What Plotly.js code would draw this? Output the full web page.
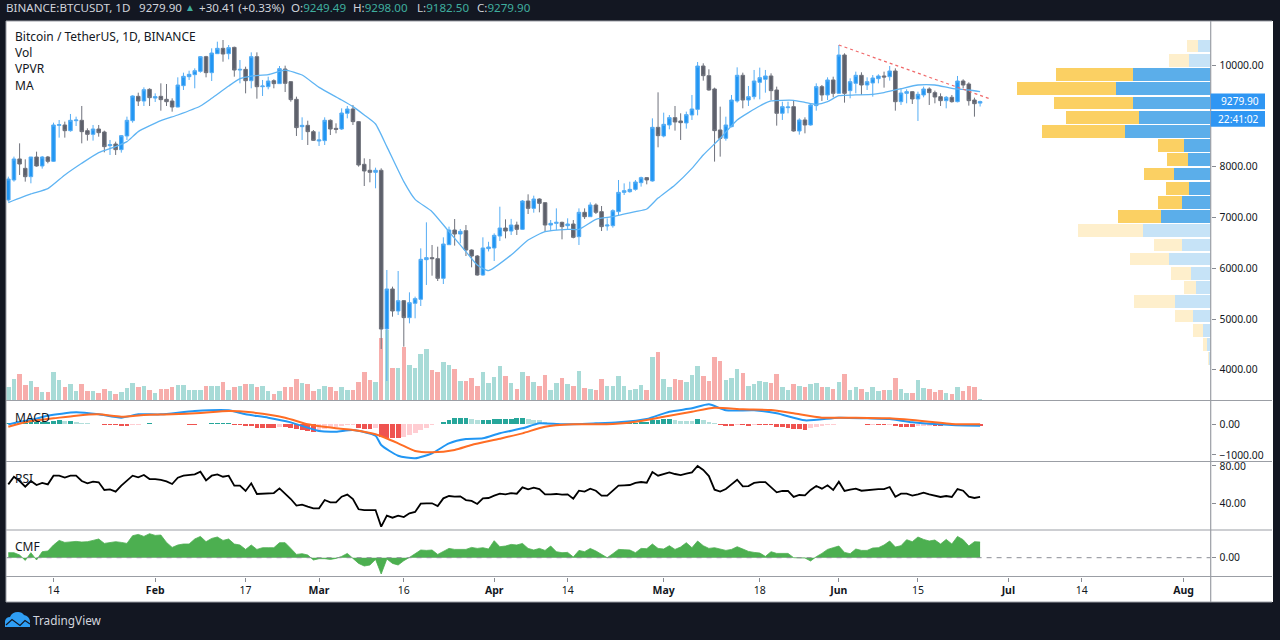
<!DOCTYPE html>
<html><head><meta charset="utf-8">
<script src="https://cdn.plot.ly/plotly-3.0.1.min.js"></script>
<style>html,body{margin:0;padding:0;background:#131722}#c{width:1280px;height:640px}</style>
</head><body><div id="c"></div>
<script>
// Candles: one per day, day index 0 = 14 Jan 2020, first candle at index -8
const firstDay = -8;
const open = [7343,7737,8150,7966,7802,8189,8012,8189,8104,8812,8819,8707,8904,8911,8707,8635,8740,8681,8412,8445,8334,8603,8904,9383,9291,9521,9350,9383,9324,9291,9173,9593,9770,9810,9875,10164,9849,10223,10328,10223,10347,9901,9914,9691,10164,9573,9573,9691,9633,9921,9672,9324,8786,8812,8688,8504,8511,8911,8753,8740,9049,9134,8885,8045,7927,7887,7927,
4804,5591,5158,5361,5027,5309,5388,6168,6208,6188,5801,6463,6752,6673,6739,6358,6240,5866,6385,6398,6634,6791,6732,6850,6765,7323,7178,7362,7290,6850,6883,6903,6837,6870,6621,7100,7014,7244,7113,6831,6837,7113,
7493,7506,7552,7684,7783,7717,8773,8603,8819,8964,8898,8859,9016,9127,9980,9790,9528,8721,8557,8786,9292,9797,9311,9377,9659,9718,9784,9508,9049,9160,9180,8701,8918,8819,9200,9574,9410,9705,9442,10197,9495,9639,9797,9606,9646,9731,9784,9770,9882,9278,9442,9475,9331,9410,9528,9456,9377,9298,9364,9278,9685,9626,9311,9249.49];
const high = [7802,8196,8458,8143,8189,8294,8209,8209,8865,8917,8885,9036,8983,9193,8753,8819,8819,8707,8524,8491,8622,8983,9403,9455,9560,9541,9442,9639,9626,9344,9757,9849,9888,9934,10177,10180,10328,10459,10492,10393,10361,10098,9967,10249,10249,9705,9770,9718,9980,9987,9685,9377,8970,8904,8720,8688,8970,8930,8852,9147,9193,9213,8898,8163,8150,7979,7966,
5965,5637,5945,5374,5525,5440,6391,6903,6457,6424,6608,6818,6968,6772,6850,6371,6260,6608,6520,6686,7211,6962,6971,6916,7342,7454,7428,7375,7296,6949,7178,6916,6982,6949,7178,7178,7296,7277,7224,6982,7159,7736,
7670,7703,7736,7802,7789,8950,9462,9062,9016,9193,9049,9082,9410,10059,10033,9915,9554,9180,8983,9410,9954,9849,9587,9902,9948,9902,9836,9574,9278,9278,9298,8950,8970,9232,9639,9606,9757,9770,10394,10230,9738,9869,9856,9757,9803,9816,9869,9980,9934,9541,9521,9488,9475,9574,9560,9495,9442,9390,9410,9784,9718,9659,9357,9298];
const low = [7310,7704,7835,7704,7671,7999,7960,8065,8091,8570,8570,8688,8799,8458,8511,8511,8589,8281,8229,8229,8275,8524,8865,9193,9193,9193,9272,9101,9193,9081,9167,9508,9705,9541,9849,9757,9685,10216,10065,10111,9770,9639,9442,9541,9337,9390,9521,9541,9626,9468,9278,8603,8524,8425,8504,8406,8425,8622,8655,8721,8950,8819,7999,7618,7691,7573,4410,
3780,5046,5079,4456,4915,5014,5256,5670,5853,5748,5689,6457,6444,6490,6240,6017,5853,5853,6330,6142,6536,6588,6654,6654,6752,7067,7093,7100,6719,6732,6752,6568,6752,6588,6457,6968,7014,7067,6732,6739,6798,7027,
7441,7487,7526,7606,7651,7704,8380,8576,8734,8708,8524,8747,8918,9009,9692,9495,8098,8196,8511,8773,9259,9147,9193,9324,9324,9455,9311,8806,8918,9049,8688,8629,8655,8806,9101,9292,9311,9364,9429,9259,9344,9442,9410,9508,9377,9639,9554,9692,9101,9213,9246,9233,8898,9364,9213,9246,9193,9147,9259,9265,9541,9200,8983,9182.50];
const close = [7756,8150,8051,7802,8189,8012,8189,8104,8819,8825,8707,8911,8917,8688,8635,8740,8668,8393,8432,8334,8609,8911,9390,9291,9514,9357,9377,9318,9278,9173,9606,9777,9816,9888,10164,9849,10236,10328,10216,10341,9901,9914,9691,10164,9573,9586,9685,9633,9928,9639,9318,8767,8812,8688,8517,8524,8911,8740,8734,9055,9134,8885,8032,7914,7887,7927,4803,
5591,5158,5361,5027,5322,5401,6175,6208,6188,5801,6476,6752,6673,6726,6358,6240,5866,6398,6417,6647,6791,6732,6850,6765,7323,7178,7362,7277,6850,6883,6903,6818,6870,6608,7100,7014,7244,7100,6818,6850,7132,7493,
7526,7552,7697,7783,7737,8773,8609,8832,8964,8878,8865,9023,9134,9980,9790,9508,8708,8557,8819,9311,9797,9311,9377,9685,9751,9784,9495,9049,9180,9173,8701,8918,8819,9213,9574,9410,9705,9442,10197,9442,9672,9797,9606,9672,9744,9784,9764,9882,9278,9449,9475,9331,9423,9528,9456,9370,9298,9364,9278,9685,9606,9298,9239,9279.90];
// Volume, thousand BTC (estimated)
const volume = [67,108,133,80,100,67,45,42,142,105,67,85,47,85,47,47,37,60,50,32,42,65,90,67,75,55,37,57,60,67,80,80,55,55,55,75,75,75,95,55,70,75,85,85,67,75,50,32,47,70,67,110,90,85,47,57,75,67,47,
70,55,55,95,143,105,95,312,355,162,165,267,180,162,233,258,153,143,195,180,158,100,100,115,75,143,90,120,175,123,90,60,143,123,95,75,128,55,90,115,85,75,148,65,60,55,110,75,75,123,75,55,60,80,55,220,245,110,70,
110,105,95,128,175,123,100,220,200,105,115,158,138,75,85,100,95,90,133,70,55,85,75,70,85,90,70,70,60,95,133,55,70,60,42,70,50,55,55,115,60,37,37,105,65,60,45,55,37,32,70,50,75,70,10];
// MACD: sparse readings (day index, value) and per-day histogram
const macdDay = [-8,-6,-4,-1,4,8,12,15,19,25,31,34,38,42,47,50,53,57,58,61,64,67,70,73,76,79,83,86,90,96,100,105,109,113,116,119,124,128,133,139,144,148,152,159,164];
const macdVal = [-2,85,139,281,389,324,216,324,324,433,454,324,216,63,-219,-241,-186,-371,-675,-1023,-1109,-947,-621,-480,-458,-290,-132,31,-2,31,63,172,411,520,650,454,454,357,129,216,194,172,63,-23,-45];
const signalDay = [-8,-4,0,4,8,12,16,21,26,31,35,41,45,50,53,57,61,64,67,71,74,79,83,87,92,99,104,109,113,117,122,127,131,136,142,148,155,159,164];
const signalVal = [-78,107,194,281,324,248,302,324,368,433,389,216,-2,-132,-186,-327,-621,-870,-914,-838,-675,-469,-295,-78,-2,9,107,281,411,541,487,465,357,216,216,194,85,9,-2];
const macdHist = [33,44,55,55,66,66,77,88,110,132,110,110,77,55,33,22,11,-22,-22,-33,-55,-55,-33,-22,22,33,22,22,22,11,11,0,-11,-22,22,22,33,33,33,33,
-22,-33,-55,-66,-132,-132,-132,-132,-88,-99,-132,-165,-198,-209,-242,-198,-154,-110,-77,-55,-33,-22,-121,-143,-143,-132,
-418,-440,-440,-440,-418,-352,-275,-198,-110,-33,22,66,154,198,198,198,165,154,154,154,165,165,
165,176,198,198,187,154,132,88,55,33,22,11,0,0,0,0,0,0,0,11,
22,33,44,55,66,88,132,154,165,176,132,121,110,99,165,132,88,33,-22,-44,-55,-33,-33,-44,-22,-22,-22,-33,-77,-88,-110,-154,-165,-176,-132,-88,-44,-22,-11,22,11,11,5,11,-33,-22,-33,-33,-22,-66,-77,-88,-99,-66,-55,-44,-55,-66,-33,-33,-22,-22,-33,-44,-44];
const rsi = [60.3,68.5,63.9,57.8,63.9,59.6,61.8,60.3,69.6,69.6,67.5,69.6,69.6,63.9,61.4,63.2,62.5,54.3,55,52.5,58.9,63.9,69.6,67.8,70.3,66,66,65,63.5,60.7,67.5,69.6,70,71,73.9,64.6,69.6,71,68.5,69.6,58.9,58.9,53.2,61.4,50,50.3,51.4,51,56,50.7,44.6,37.5,38.5,36.4,34.6,34.6,43.5,41,41,47.1,49.3,44.6,33.6,32.8,32.5,32.8,15,26.8,24.6,26.8,25.3,29.3,30.7,39.6,40,40,37.1,45.3,47.8,47.1,47.5,43.5,42.5,39.3,45.3,45.7,48.2,50.3,
49.6,51,50.3,57.1,55,56.8,55.3,49.6,49.6,50,49.3,49.6,45,53.5,52.5,55.7,53.5,48.2,48.2,53.5,58.9,59.3,59.6,61.8,62.8,62.1,73.5,69.6,71.4,73.2,71.4,70.3,71.7,73.2,80,75.7,69.2,54.6,52.5,55.3,60.3,65.3,58.2,58.5,61.8,62.8,62.8,57.8,51.8,53.2,53.2,46.8,48.9,48.5,54.3,58.5,55.7,59.3,54.3,63.2,53.2,54.6,55.7,53.5,54.3,55.3,55.3,55.3,57.5,47.1,50.3,50.3,48.2,49.6,51.4,49.6,47.8,46.8,47.8,46.8,55.3,53.5,47.1,45.7,46.8];
const cmf = [.05,.05,.027,-.027,.05,-.023,.06,.067,.127,.173,.153,.157,.163,.157,.16,.173,.187,.143,.15,.16,.153,.143,.22,.233,.213,.24,.223,.227,.153,.103,.127,.137,.137,.187,.213,.16,.193,.207,.173,.187,.137,.127,.083,.127,.083,.1,.1,.1,.15,.15,.093,.033,.04,.027,-.023,-.01,-.01,-.017,-.007,.013,.043,-.007,-.057,-.083,-.073,-.017,-.163,-.013,-.057,-.073,-.03,.003,.043,.077,.073,.077,.033,.067,.093,.083,.083,.083,.103,.093,.1,.087,.17,.11,
.117,.133,.127,.143,.093,.077,.093,.073,.117,.06,.05,.053,.007,.073,.06,.093,.067,.033,0,.04,.083,.08,.077,.05,.093,.09,.137,.093,.087,.12,.083,.107,.15,.1,.167,.12,.093,.1,.087,.073,.083,.11,.087,.063,.053,.047,.013,.06,.043,.04,.043,0,0,-.003,-.033,.01,.043,.083,.1,.117,.053,.04,.087,.073,.073,.097,.1,.127,.167,.107,.12,.18,.16,.207,.183,.167,.177,.137,.183,.137,.213,.18,.117,.16,.157];
// Moving average: readings from the picture
const maDay = [-8,-4,-1,2,5,8,11,13,15,19,22,26,28,31,33,35,38,41,44,47,51,53,55,57,59,62,64,67,70,73,75,77,81,84,87,91,93,96,99,103,105,107,110,113,115,118,121,125,127,131,133,135,137,139,142,145,147,150,153,156,159,162,164];
const maVal = [7291,7461,7566,7835,8065,8275,8393,8491,8688,8904,9016,9193,9344,9586,9731,9783,9810,9901,9803,9560,9311,9180,9016,8839,8393,7704,7355,7113,6719,6326,6063,5952,6260,6555,6719,6765,6765,6962,7014,7113,7165,7380,7640,7966,8229,8557,8918,9193,9292,9305,9265,9226,9278,9396,9410,9423,9456,9534,9606,9606,9541,9508,9475];
const trendDay = [139,166];
const trendPrice = [10394,9324];
// Visible range volume profile (price level, up part, down part)
const vpPrice = [10374,10092,9813,9534,9252,8967,8695,8416,8140,7855,7573,7297,7019,6743,6461,6179,5897,5618,5342,5060,4778,4500,4224];
const vpUp = [12.7,22,77.7,95,77.7,72,85.7,27,23,36.7,22,29,50,67.3,29,41.7,19.3,14.7,35.7,17.3,7.7,4,1.7];
const vpDown = [11.3,19.7,77,99,79,72.7,83,26,20.3,29.7,22.3,24,42.3,65.3,27.7,39,20.3,12.3,41,18.3,10,3.7,1];
const valueAreaTop = 9950, valueAreaBottom = 6900;
// Axis labels
const timeTickDays = [0,18,34,47,62,78,91,108,125,139,153,169,182,200];
const timeTickText = ['14','<b>Feb</b>','17','<b>Mar</b>','16','<b>Apr</b>','14','<b>May</b>','18','<b>Jun</b>','15','<b>Jul</b>','14','<b>Aug</b>'];
const priceTicks = [4000,5000,6000,7000,8000,10000];
const macdTicks = [-1000,0];
const rsiTicks = [40,80];
const cmfTicks = [0];

const days = open.map((_, i) => firstDay + i);
const W = 1280, H = 640;
const px = x => x / W, py = y => 1 - y / H;
const UP = '#2196f3', DOWN = '#5d606b', FONT = '"Noto Sans", sans-serif', INK = '#131722';
const axisX0 = 6.5, axisX1 = 1210.5, P = {top: 21, vol: 400.5, macd: 461.5, rsi: 530, cmf: 576.5, end: 602};
const dayPx = 5.65, day0Px = 53.5;
const dom = (a, b) => [py(b), py(a)];

const volColor = open.map((o, i) => close[i] >= o ? 'rgba(38,166,154,.4)' : 'rgba(239,83,80,.48)');
const histColor = macdHist.map((v, i) => {
  const p = i ? macdHist[i-1] : 0;
  if (v >= 0) return v >= p ? '#26a69a' : '#b2dfdb';
  return v <= p ? '#ef5350' : '#ffcdd2';
});
const inArea = vpPrice.map(p => p < valueAreaTop && p > valueAreaBottom);

const traces = [
 {type:'bar', x:days, y:volume, width:.8, marker:{color:volColor, line:{width:0}}, xaxis:'x', yaxis:'y', hoverinfo:'skip'},
 {type:'candlestick', x:days, open, high, low, close, xaxis:'x', yaxis:'y2', whiskerwidth:0, hoverinfo:'skip',
  increasing:{line:{color:'#55adf4', width:1}, fillcolor:UP},
  decreasing:{line:{color:'#6f727c', width:1}, fillcolor:DOWN}},
 {type:'scatter', mode:'lines', x:maDay, y:maVal, xaxis:'x', yaxis:'y2', line:{color:'#5fb4f3', width:1.3, shape:'spline', smoothing:.5}, hoverinfo:'skip'},
 {type:'scatter', mode:'lines', x:trendDay, y:trendPrice, xaxis:'x', yaxis:'y2', line:{color:'#f0696a', width:1.2, dash:'dot'}, hoverinfo:'skip'},
 {type:'bar', orientation:'h', y:vpPrice, x:vpUp, width:245, xaxis:'x2', yaxis:'y2', hoverinfo:'skip',
  marker:{color:inArea.map(a => a ? '#5baeea' : '#c6e3f7'), line:{width:0}}},
 {type:'bar', orientation:'h', y:vpPrice, x:vpDown, width:245, xaxis:'x2', yaxis:'y2', hoverinfo:'skip',
  marker:{color:inArea.map(a => a ? '#fbd063' : '#feefcc'), line:{width:0}}},
 {type:'bar', x:days, y:macdHist, width:.85, xaxis:'x', yaxis:'y3', marker:{color:histColor, line:{width:0}}, hoverinfo:'skip'},
 {type:'scatter', mode:'lines', x:macdDay, y:macdVal, xaxis:'x', yaxis:'y3', line:{color:'#2196f3', width:2, shape:'spline', smoothing:.6}, hoverinfo:'skip'},
 {type:'scatter', mode:'lines', x:signalDay, y:signalVal, xaxis:'x', yaxis:'y3', line:{color:'#ff6d24', width:2, shape:'spline', smoothing:.6}, hoverinfo:'skip'},
 {type:'scatter', mode:'lines', x:days, y:rsi, xaxis:'x', yaxis:'y4', line:{color:'#000000', width:1.8}, hoverinfo:'skip'},
 {type:'scatter', mode:'lines', x:days, y:cmf, xaxis:'x', yaxis:'y5', fill:'tozeroy', fillcolor:'#4caf50', line:{color:'#4caf50', width:.8}, hoverinfo:'skip'}
];

const rule = (x0,y0,x1,y1,color,w) => ({type:'line', xref:'paper', yref:'paper', x0:px(x0), x1:px(x1), y0:py(y0), y1:py(y1), line:{color, width:w}});
const rect = (x0,y0,x1,y1,color,layer) => ({type:'rect', xref:'paper', yref:'paper', x0:px(x0), x1:px(x1), y0:py(y0), y1:py(y1), fillcolor:color, line:{width:0}, layer:layer||'above'});
const pathOf = pts => pts.map(s => s[0] + s.slice(1).map((v,i) => i % 2 ? py(v) : px(v)).join(',')).join(' ');
const logo = [['M',5,627],['L',5,621],['Q',6,617,10,617],['Q',12,612,18,612],['Q',22,612,24,615],['Q',29,616,30,621],['L',30,627],['Z']];
const logoWave = [['M',6,625],['L',12,619.5],['L',20,625.5],['L',25,620.5],['L',30,624]];

const shapes = [
 rect(6,21,1273,602,'#ffffff','below'),
 rule(6,P.vol,1272,P.vol,'#9b9ea5',1), rule(6,P.macd,1272,P.macd,'#9b9ea5',1),
 rule(6,P.rsi,1272,P.rsi,'#9b9ea5',1), rule(6,P.cmf,1272,P.cmf,'#9b9ea5',1),
 rule(6,P.end,1272,P.end,'#9b9ea5',1), rule(6,21,6,602,'#9b9ea5',1), rule(6,21,1272,21,'#9b9ea5',1),
 rule(1210.7,21,1210.7,602,'#9b9ea5',1.2),
 {type:'line', xref:'x', yref:'y5', x0:-8.3, x1:204.7, y0:0, y1:0, line:{color:'#8a8d94', width:1, dash:'5px,5px'}},
 rect(1210.7,93.5,1265,109.3,'#2f96f3'), rect(1210.7,111,1265,126.7,'#2f96f3'),
 {type:'path', xref:'paper', yref:'paper', path:pathOf(logo), fillcolor:'#2f9ef4', line:{width:0}},
 {type:'path', xref:'paper', yref:'paper', path:pathOf(logoWave), line:{color:'#131722', width:1.2}}
];

const note = (text,x,y,size,color,opt) => Object.assign({text, xref:'paper', yref:'paper', x:px(x), y:py(y), xanchor:'left', yanchor:'middle', showarrow:false, borderpad:0,
  font:{family:FONT, size, color}}, opt||{});
const HEAD = '#d1d4dc', TEAL = '#3fae9f', HS = 11.6;
const annotations = [
 note('BINANCE:BTCUSDT, 1D',5,7,HS,HEAD), note('9279.90',138,7,HS,HEAD),
 note('▲',184,7,10,TEAL), note('+30.41 (+0.33%)',198,7,HS,HEAD),
 note('O:<span style="color:'+TEAL+'">9249.49</span>',290,7,HS,HEAD),
 note('H:<span style="color:'+TEAL+'">9298.00</span>',352,7,HS,HEAD),
 note('L:<span style="color:'+TEAL+'">9182.50</span>',416,7,HS,HEAD),
 note('C:<span style="color:'+TEAL+'">9279.90</span>',476,7,HS,HEAD),
 note('Bitcoin / TetherUS, 1D, BINANCE',13.5,36,12,INK), note('Vol',13.5,52.5,12,INK), note('VPVR',13.5,69,12,INK), note('MA',13.5,85.5,12,INK),
 note('MACD',13.5,417,12,INK), note('RSI',13.5,478,12,INK), note('CMF',13.5,546,12,INK),
 note('9279.90',1220,101.5,10.2,'#ffffff'), note('22:41:02',1216.5,119,10.2,'#ffffff'),
 note('TradingView',32,619.5,11.8,'#d1d4dc')
];

const side = (d, range, tickvals) => ({domain:d, range, tickvals, tickmode:'array', tickformat:'.2f', side:'right', anchor:'x', fixedrange:true,
  showgrid:false, zeroline:false, showline:false, ticks:'outside', ticklen:4, tickcolor:'#888b92', tickwidth:1, ticklabelstandoff:2,
  tickfont:{family:FONT, size:10.3, color:INK}});
const range0 = [(axisX0-day0Px)/dayPx, (axisX1-day0Px)/dayPx];
const layout = {
 width:W, height:H, margin:{l:0,r:0,t:0,b:0}, paper_bgcolor:'#131722', plot_bgcolor:'rgba(0,0,0,0)',
 showlegend:false, barmode:'stack', boxgap:.1, hovermode:false, shapes, annotations,
 xaxis:{domain:[px(axisX0),px(axisX1)], range:range0, anchor:'y5', tickmode:'array', tickvals:timeTickDays, ticktext:timeTickText,
   showgrid:false, zeroline:false, showline:false, ticks:'outside', ticklen:4, tickcolor:'#888b92', fixedrange:true,
   rangeslider:{visible:false}, tickfont:{family:FONT, size:10.5, color:INK}},
 xaxis2:{domain:[px(axisX0),px(axisX1)], range:[axisX1-axisX0,0], overlaying:'x', anchor:'y2', visible:false, fixedrange:true},
 yaxis:{domain:dom(P.top,P.vol), range:[0,(P.vol-P.top)*5], visible:false, anchor:'x', fixedrange:true},
 yaxis2:Object.assign(side(dom(P.top,P.vol),[3396,10866],priceTicks),{overlaying:'y'}),
 yaxis3:side(dom(P.vol,P.macd),[-1212,775],macdTicks),
 yaxis4:side(dom(P.macd,P.rsi),[11.4,84.8],rsiTicks),
 yaxis5:side(dom(P.rsi,P.cmf),[-.188,.277],cmfTicks)
};
Plotly.newPlot('c', traces, layout, {displayModeBar:false, staticPlot:true});
</script></body></html>
